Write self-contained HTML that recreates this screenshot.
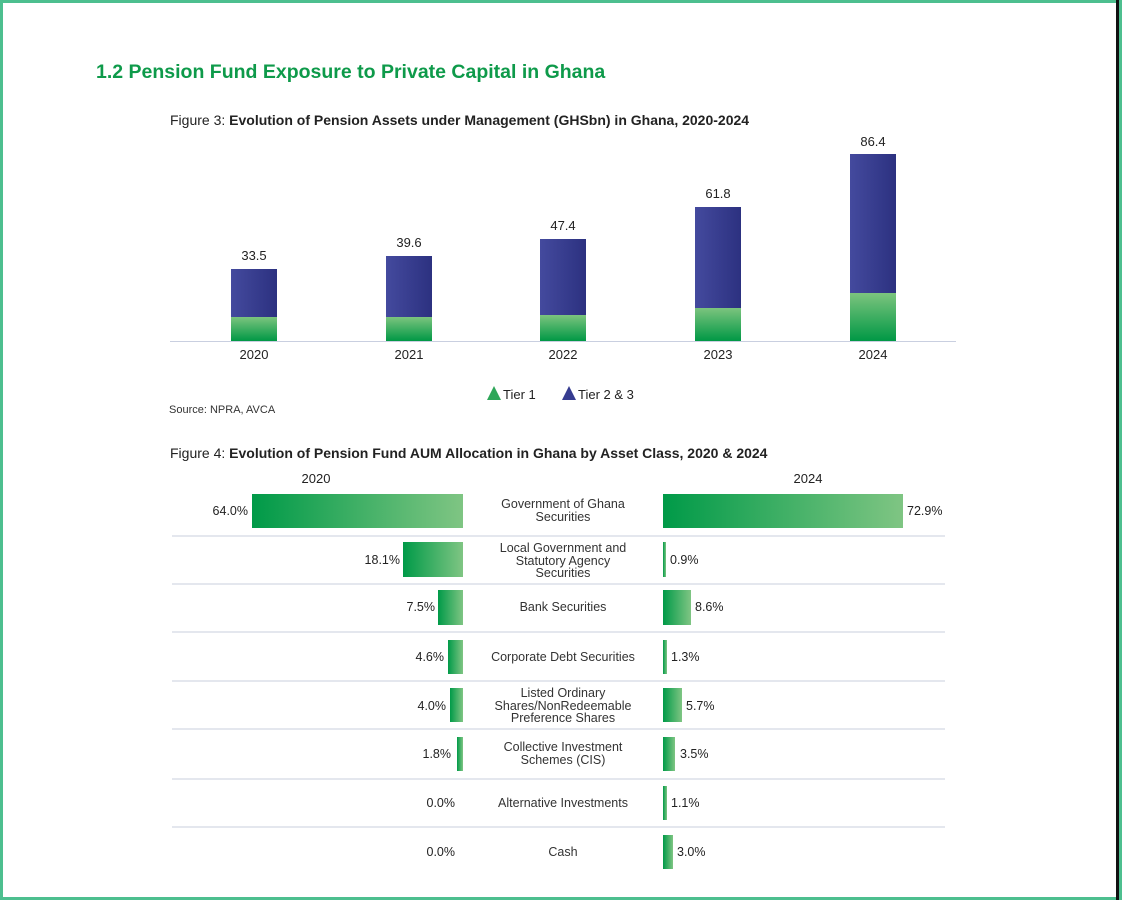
<!DOCTYPE html>
<html><head><meta charset="utf-8"><style>
body{margin:0;width:1122px;height:900px;position:relative;background:#fff;font-family:"Liberation Sans",sans-serif;overflow:hidden}
.a{position:absolute}
.frame{left:0;top:0;width:1116px;height:894px;border:3px solid #4dbf8f;border-right:none;box-sizing:content-box}
.t{font-size:14px;color:#222;white-space:nowrap}
.bar{position:absolute;width:46px}
.blue{background:linear-gradient(90deg,#444a9e,#2c3180)}
.grn{background:linear-gradient(180deg,#7cc47e,#009845)}
.lb{font-size:13px;color:#222;text-align:center;width:60px}
.hl{background:linear-gradient(90deg,#009a48,#7fc583)}
.hr{background:linear-gradient(90deg,#009a48,#7fc583)}
.sep{left:172px;width:773px;height:2px;background:#e4e7ee}
.cat{left:483px;width:160px;text-align:center;font-size:12.5px;line-height:12.5px;color:#333}
.pl{font-size:12.5px;color:#222;text-align:right;width:60px}
.pr{font-size:12.5px;color:#222}
</style></head><body>
<div class="a frame"></div>
<div class="a" style="left:1116px;top:0;width:3px;height:900px;background:#111"></div>
<div class="a" style="left:1119px;top:0;width:3px;height:900px;background:#4dbf8f"></div>

<div class="a" style="left:96px;top:61px;font-size:19.5px;font-weight:bold;color:#0e9a4a;white-space:nowrap">1.2 Pension Fund Exposure to Private Capital in Ghana</div>
<div class="a t" style="left:170px;top:112px">Figure 3: <b>Evolution of Pension Assets under Management (GHSbn) in Ghana, 2020-2024</b></div>

<div class="a" style="left:170px;top:341px;width:786px;height:1px;background:#c9cfe0"></div>
<div class="bar blue a" style="left:231px;top:269px;height:48px"></div><div class="bar grn a" style="left:231px;top:317px;height:24px"></div>
<div class="bar blue a" style="left:386px;top:256px;height:61px"></div><div class="bar grn a" style="left:386px;top:317px;height:24px"></div>
<div class="bar blue a" style="left:540px;top:239px;height:76px"></div><div class="bar grn a" style="left:540px;top:315px;height:26px"></div>
<div class="bar blue a" style="left:695px;top:207px;height:101px"></div><div class="bar grn a" style="left:695px;top:308px;height:33px"></div>
<div class="bar blue a" style="left:850px;top:154px;height:139px"></div><div class="bar grn a" style="left:850px;top:293px;height:48px"></div>
<div class="a lb" style="left:224px;top:248px">33.5</div>
<div class="a lb" style="left:379px;top:235px">39.6</div>
<div class="a lb" style="left:533px;top:218px">47.4</div>
<div class="a lb" style="left:688px;top:186px">61.8</div>
<div class="a lb" style="left:843px;top:134px">86.4</div>
<div class="a lb" style="left:224px;top:347px">2020</div>
<div class="a lb" style="left:379px;top:347px">2021</div>
<div class="a lb" style="left:533px;top:347px">2022</div>
<div class="a lb" style="left:688px;top:347px">2023</div>
<div class="a lb" style="left:843px;top:347px">2024</div>
<svg class="a" style="left:487px;top:386px" width="14" height="14"><polygon points="7,0 14,14 0,14" fill="#2ea659"/></svg>
<div class="a" style="left:503px;top:387px;font-size:13px;color:#222">Tier 1</div>
<svg class="a" style="left:562px;top:386px" width="14" height="14"><polygon points="7,0 14,14 0,14" fill="#363c90"/></svg>
<div class="a" style="left:578px;top:387px;font-size:13px;color:#222">Tier 2 &amp; 3</div>
<div class="a" style="left:169px;top:404px;font-size:11px;color:#333">Source: NPRA, AVCA</div>

<div class="a t" style="left:170px;top:445px">Figure 4: <b>Evolution of Pension Fund AUM Allocation in Ghana by Asset Class, 2020 &amp; 2024</b></div>
<div class="a lb" style="left:286px;top:471px">2020</div>
<div class="a lb" style="left:778px;top:471px">2024</div>

<div class="a sep" style="top:535px"></div>
<div class="a sep" style="top:583px"></div>
<div class="a sep" style="top:631px"></div>
<div class="a sep" style="top:680px"></div>
<div class="a sep" style="top:728px"></div>
<div class="a sep" style="top:778px"></div>
<div class="a sep" style="top:826px"></div>

<div class="a hl" style="left:252px;top:494px;width:211px;height:34px"></div>
<div class="a hr" style="left:663px;top:494px;width:240px;height:34px"></div>
<div class="a pl" style="left:188px;top:504px">64.0%</div>
<div class="a pr" style="left:907px;top:504px">72.9%</div>
<div class="a cat" style="top:498px">Government of Ghana<br>Securities</div>

<div class="a hl" style="left:403px;top:542px;width:60px;height:35px"></div>
<div class="a hr" style="left:663px;top:542px;width:3px;height:35px"></div>
<div class="a pl" style="left:340px;top:553px">18.1%</div>
<div class="a pr" style="left:670px;top:553px">0.9%</div>
<div class="a cat" style="top:542px">Local Government and<br>Statutory Agency<br>Securities</div>

<div class="a hl" style="left:438px;top:590px;width:25px;height:35px"></div>
<div class="a hr" style="left:663px;top:590px;width:28px;height:35px"></div>
<div class="a pl" style="left:375px;top:600px">7.5%</div>
<div class="a pr" style="left:695px;top:600px">8.6%</div>
<div class="a cat" style="top:601px">Bank Securities</div>

<div class="a hl" style="left:448px;top:640px;width:15px;height:34px"></div>
<div class="a hr" style="left:663px;top:640px;width:4px;height:34px"></div>
<div class="a pl" style="left:384px;top:650px">4.6%</div>
<div class="a pr" style="left:671px;top:650px">1.3%</div>
<div class="a cat" style="top:651px">Corporate Debt Securities</div>

<div class="a hl" style="left:450px;top:688px;width:13px;height:34px"></div>
<div class="a hr" style="left:663px;top:688px;width:19px;height:34px"></div>
<div class="a pl" style="left:386px;top:699px">4.0%</div>
<div class="a pr" style="left:686px;top:699px">5.7%</div>
<div class="a cat" style="top:687px">Listed Ordinary<br>Shares/NonRedeemable<br>Preference Shares</div>

<div class="a hl" style="left:457px;top:737px;width:6px;height:34px"></div>
<div class="a hr" style="left:663px;top:737px;width:12px;height:34px"></div>
<div class="a pl" style="left:391px;top:747px">1.8%</div>
<div class="a pr" style="left:680px;top:747px">3.5%</div>
<div class="a cat" style="top:741px">Collective Investment<br>Schemes (CIS)</div>

<div class="a hr" style="left:663px;top:786px;width:4px;height:34px"></div>
<div class="a pl" style="left:395px;top:796px">0.0%</div>
<div class="a pr" style="left:671px;top:796px">1.1%</div>
<div class="a cat" style="top:797px">Alternative Investments</div>

<div class="a hr" style="left:663px;top:835px;width:10px;height:34px"></div>
<div class="a pl" style="left:395px;top:845px">0.0%</div>
<div class="a pr" style="left:677px;top:845px">3.0%</div>
<div class="a cat" style="top:846px">Cash</div>
</body></html>
